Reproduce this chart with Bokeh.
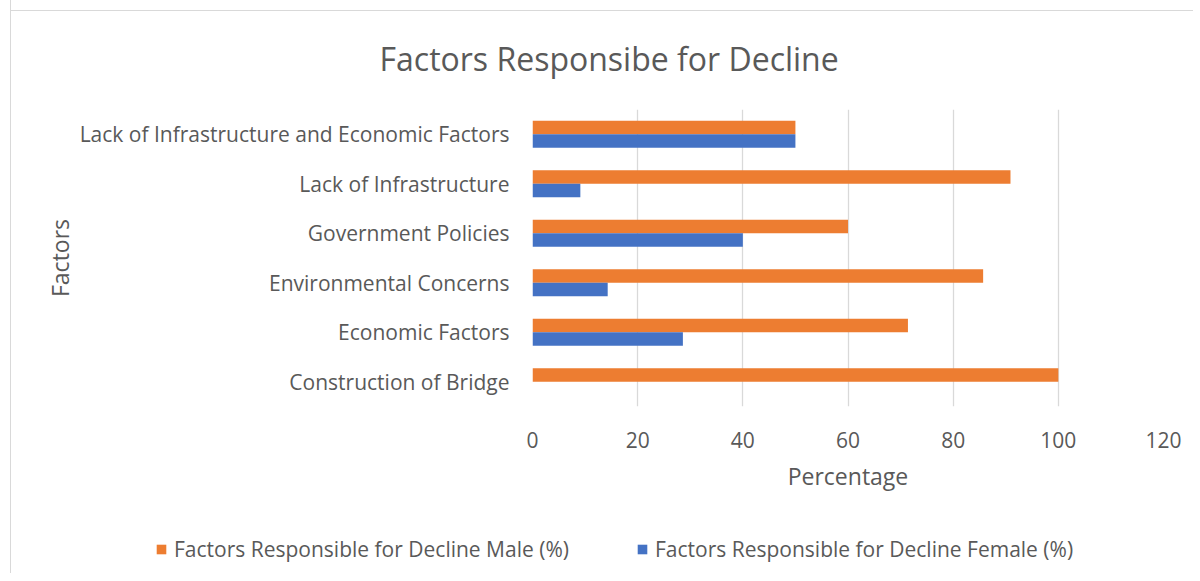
from bokeh.plotting import figure
from bokeh.models import ColumnDataSource, FactorRange, Range1d, Legend, LegendItem, Title, FixedTicker
from bokeh.transform import dodge
from bokeh.embed import file_html
from bokeh.resources import INLINE

categories = ["Construction of Bridge", "Economic Factors", "Environmental Concerns",
              "Government Policies", "Lack of Infrastructure",
              "Lack of Infrastructure and Economic Factors"]
male = [100, 71.4, 85.7, 60, 90.9, 50]
female = [0, 28.6, 14.3, 40, 9.1, 50]
x_ticks = [0, 20, 40, 60, 80, 100, 120]
series_names = ["Factors Responsible for Decline Male (%)",
                "Factors Responsible for Decline Female (%)"]
title_text = "Factors Responsibe for Decline"

FONT = "Open Sans"
TXT = "#595959"
ORANGE = "#ED7D31"
BLUE = "#4472C4"
GRID = "#D9D9D9"

src = ColumnDataSource(dict(cat=categories, male=male, female=female))

p = figure(y_range=FactorRange(*categories), x_range=Range1d(0, 120),
           frame_width=631, frame_height=297,
           min_border_left=521, min_border_right=30,
           min_border_top=109, min_border_bottom=95,
           output_backend="svg", toolbar_location=None)
p.margin = (0, 0, 0, 10)
p.border_fill_color = None
p.styles = {"border-left": "1px solid " + GRID,
            "background": "linear-gradient(#D9D9D9, #D9D9D9) 0px 10px / 100% 1px no-repeat white"}
p.outline_line_color = None

r_m = p.hbar(y=dodge("cat", 0.137, range=p.y_range), left=0, right="male", height=0.27,
             fill_color=ORANGE, line_color=None, source=src)
r_f = p.hbar(y=dodge("cat", -0.137, range=p.y_range), left=0, right="female", height=0.27,
             fill_color=BLUE, line_color=None, source=src)

t = Title(text=title_text, text_font=FONT, text_font_size="32px", text_color=TXT,
          text_font_style="normal", align="left", offset=-153, standoff=60)
p.add_layout(t, "above")

xa = p.xaxis[0]
xa.ticker = FixedTicker(ticks=x_ticks)
xa.axis_line_color = None
xa.major_tick_line_color = None
xa.minor_tick_line_color = None
xa.major_label_standoff = 19
xa.major_label_text_font = FONT
xa.major_label_text_font_size = "21px"
xa.major_label_text_color = TXT
xa.axis_label = "Percentage"
xa.axis_label_text_font = FONT
xa.axis_label_text_font_size = "23px"
xa.axis_label_text_font_style = "normal"
xa.axis_label_text_color = TXT
xa.axis_label_standoff = 9

ya = p.yaxis[0]
ya.axis_line_color = None
ya.major_tick_line_color = None
ya.minor_tick_line_color = None
ya.major_label_standoff = 17
ya.major_label_text_font = FONT
ya.major_label_text_font_size = "21px"
ya.major_label_text_color = TXT
ya.axis_label = "Factors"
ya.axis_label_text_font = FONT
ya.axis_label_text_font_size = "23px"
ya.axis_label_text_font_style = "normal"
ya.axis_label_text_color = TXT
ya.axis_label_standoff = 1

p.xgrid.grid_line_color = GRID
p.xgrid.grid_line_width = 1.3
p.ygrid.grid_line_color = None

# legend strip below the chart (separate root so its frame spans the full width)
q = figure(y_range=FactorRange(*categories), x_range=Range1d(0, 120),
           width=1182, height=72, min_border=0,
           x_axis_type=None, y_axis_type=None,
           output_backend="svg", toolbar_location=None)
q.margin = (0, 0, 0, 10)
q.styles = {"border-left": "1px solid " + GRID}
q.outline_line_color = None
q.xgrid.grid_line_color = None
q.ygrid.grid_line_color = None
lm = q.hbar(y="cat", left=0, right="male", height=0.27, fill_color=ORANGE,
            line_color=None, source=src, visible=False)
lf = q.hbar(y="cat", left=0, right="female", height=0.27, fill_color=BLUE,
            line_color=None, source=src, visible=False)

legend = Legend(items=[LegendItem(label=series_names[0], renderers=[lm]),
                       LegendItem(label=series_names[1], renderers=[lf])],
                orientation="horizontal", location=(144, 10), click_policy="none",
                glyph_width=12, glyph_height=12, label_standoff=7, spacing=67,
                padding=0, margin=0, border_line_color=None, background_fill_alpha=0,
                label_text_font=FONT, label_text_font_size="21px", label_text_color=TXT)
q.add_layout(legend, "center")

open("out.html", "w").write(file_html([p, q], INLINE))
